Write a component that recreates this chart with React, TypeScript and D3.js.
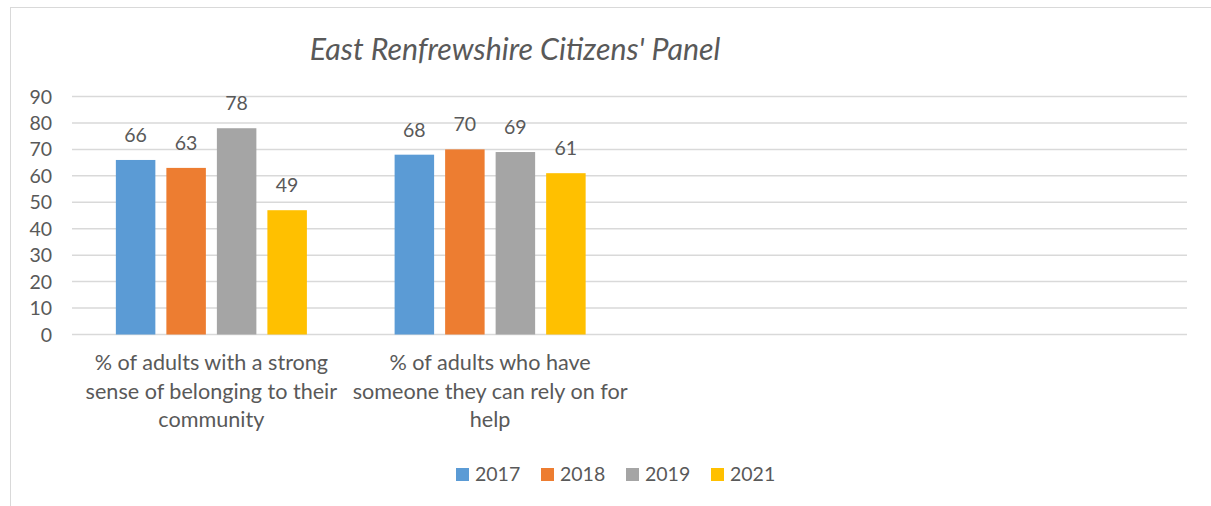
import React from "react";
import * as d3 from "d3";

const title = "East Renfrewshire Citizens' Panel";
const categories = [
  ["% of adults with a strong", "sense of belonging to their", "community"],
  ["% of adults who have", "someone they can rely on for", "help"],
  [],
  [],
];
const seriesNames = ["2017", "2018", "2019", "2021"];
const seriesColors = ["#5B9BD5", "#ED7D31", "#A5A5A5", "#FFC000"];
// values per series (one per filled category)
const values2017 = [66, 68];
const values2018 = [63, 70];
const values2019 = [78, 69];
const values2021 = [47, 61];
const labels2017 = ["66", "68"];
const labels2018 = ["63", "70"];
const labels2019 = ["78", "69"];
const labels2021 = ["49", "61"];
const yTicks = [0, 10, 20, 30, 40, 50, 60, 70, 80, 90];

const seriesValues = [values2017, values2018, values2019, values2021];
const seriesLabels = [labels2017, labels2018, labels2019, labels2021];

const W = 1211;
const H = 506;
const FONT = "Lato, sans-serif";
const TXT = "#595959";
const FS = 19.5;
const FS_CAT = 21.6;

export default function App() {
  const left = 72;
  const right = 1187;
  const top = 96.5;
  const bottom = 334.5;
  const y = d3.scaleLinear().domain([0, 90]).range([bottom, top]);
  const x0 = d3
    .scaleBand<number>()
    .domain(d3.range(categories.length))
    .range([left, right])
    .paddingInner(0)
    .paddingOuter(0);
  const bw = x0.bandwidth();
  const barW = bw * 0.1417;
  const gap = bw * 0.0395;
  const groupW = barW * 4 + gap * 3;

  const barX = (ci: number, si: number) =>
    (x0(ci) as number) + (bw - groupW) / 2 + si * (barW + gap);

  const legendX = d3.scaleLinear().domain([0, 1]).range([456, 541]);

  return (
    <svg
      width={W}
      height={H}
      style={{ position: "absolute", left: 0, top: 0, background: "#fff" }}
      fontFamily={FONT}
    >
      <rect x={10.5} y={7.5} width={W + 5} height={H + 5} fill="#fff" stroke="#D9D9D9" />
      <text
        x={515}
        y={60}
        textAnchor="middle"
        fontSize={30.3}
        fontStyle="italic"
        fill={TXT}
      >
        {title}
      </text>
      {yTicks.map((t) => (
        <g key={t}>
          <line x1={left} x2={right} y1={y(t)} y2={y(t)} stroke="#D9D9D9" strokeWidth={1.5} />
          <text x={52} y={y(t) + 7} textAnchor="end" fontSize={FS} fill={TXT}>
            {t}
          </text>
        </g>
      ))}
      {seriesValues.map((vals, si) =>
        vals.map((v, ci) => (
          <g key={`${si}-${ci}`}>
            <rect
              x={barX(ci, si)}
              y={y(v)}
              width={barW}
              height={y(0) - y(v)}
              fill={seriesColors[si]}
            />
            <text
              x={barX(ci, si) + barW / 2}
              y={y(v) - 18}
              textAnchor="middle"
              fontSize={FS}
              fill={TXT}
            >
              {seriesLabels[si][ci]}
            </text>
          </g>
        ))
      )}
      {categories.map((lines, ci) =>
        lines.map((ln, li) => (
          <text
            key={`${ci}-${li}`}
            x={(x0(ci) as number) + bw / 2}
            y={370 + li * 28.7}
            textAnchor="middle"
            fontSize={FS_CAT}
            fill={TXT}
          >
            {ln}
          </text>
        ))
      )}
      {seriesNames.map((n, i) => (
        <g key={n}>
          <rect x={legendX(i)} y={468} width={13} height={13} fill={seriesColors[i]} />
          <text x={legendX(i) + 19} y={481} fontSize={FS} fill={TXT}>
            {n}
          </text>
        </g>
      ))}
    </svg>
  );
}
